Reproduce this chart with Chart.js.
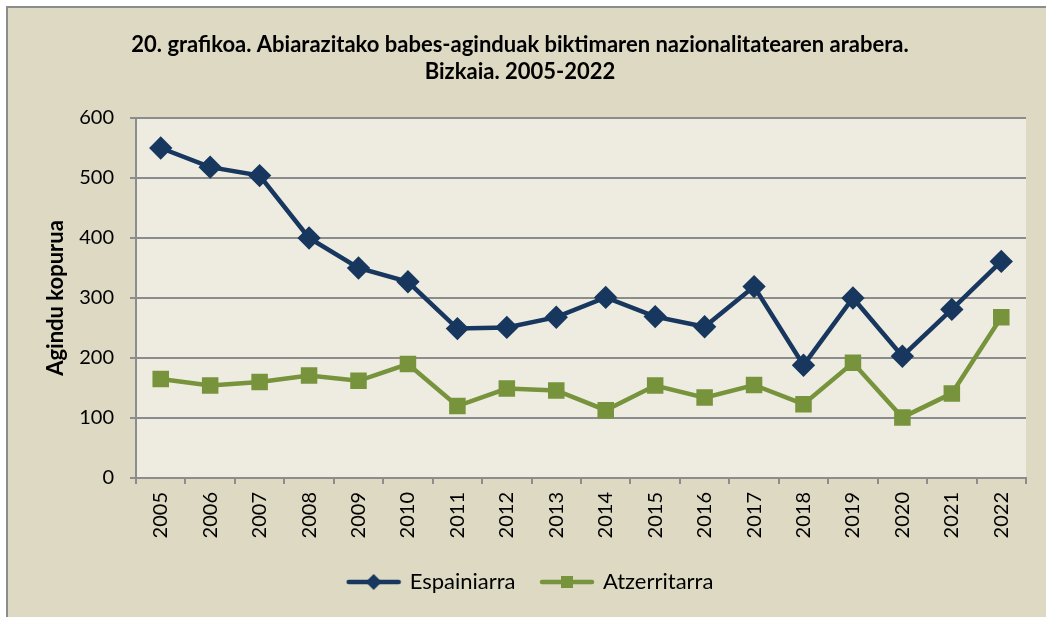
<!DOCTYPE html>
<html>
<head>
<meta charset="utf-8">
<script src="https://cdn.jsdelivr.net/npm/chart.js@4.4.0/dist/chart.umd.min.js"></script>
<style>
  html, body { margin: 0; padding: 0; background: #ffffff; }
  #box { position: relative; width: 1046px; height: 617px; }
</style>
</head>
<body>
<div id="box"><canvas id="natChart"></canvas></div>
<script>
// Babes-aginduak biktimaren nazionalitatearen arabera, Bizkaia 2005-2022
const years = ['2005', '2006', '2007', '2008', '2009', '2010', '2011', '2012', '2013',
               '2014', '2015', '2016', '2017', '2018', '2019', '2020', '2021', '2022'];
const espainiarra = [550, 518, 504, 400, 350, 327, 249, 251, 268, 301, 269, 252, 319, 188, 300, 203, 281, 361];
const atzerritarra = [165, 154, 160, 171, 162, 190, 120, 149, 146, 113, 154, 134, 155, 123, 192, 101, 141, 268];
const yTicks = [0, 100, 200, 300, 400, 500, 600];

const navy = '#17375e';
const olive = '#77933c';
const gridGrey = '#8c8c8c';

// small canvas: line with marker in the middle, for the legend
function legendMark(color, shape) {
    const c = document.createElement('canvas');
    c.width = 56; c.height = 18;
    const g = c.getContext('2d');
    g.strokeStyle = color;
    g.lineWidth = 4.5;
    g.lineCap = 'round';
    g.beginPath(); g.moveTo(3, 9); g.lineTo(53, 9); g.stroke();
    g.fillStyle = color;
    if (shape === 'diamond') {
        g.beginPath(); g.moveTo(28, 1); g.lineTo(36, 9); g.lineTo(28, 17); g.lineTo(20, 9); g.closePath(); g.fill();
    } else {
        g.fillRect(22, 3, 12, 12);
    }
    return c;
}

const backgroundPlugin = {
    id: 'backgrounds',
    beforeDraw(chart) {
        const ctx = chart.ctx;
        const a = chart.chartArea;
        ctx.save();
        ctx.fillStyle = '#ffffff';
        ctx.fillRect(0, 0, chart.width, chart.height);
        ctx.fillStyle = '#ddd9c3';
        ctx.fillRect(7, 7, chart.width - 7, chart.height - 7);
        ctx.strokeStyle = '#8c8c8c';
        ctx.lineWidth = 2;
        ctx.beginPath();
        ctx.moveTo(7, chart.height); ctx.lineTo(7, 7); ctx.lineTo(chart.width, 7);
        ctx.stroke();
        ctx.fillStyle = '#eeece1';
        ctx.fillRect(a.left, a.top, a.right - a.left, a.bottom - a.top);
        ctx.restore();
    },
    afterLayout(chart) {
        // legend sits a bit right of the centre in the original
        if (chart.legend) {
            chart.legend.left += 11;
            chart.legend.right += 11;
        }
    }
};

document.addEventListener('DOMContentLoaded', function() {
    const ctx = document.getElementById('natChart');
    new Chart(ctx, {
        type: 'line',
        data: {
            labels: years,
            datasets: [
                {
                    label: 'Espainiarra',
                    data: espainiarra,
                    borderColor: navy,
                    backgroundColor: navy,
                    borderWidth: 4.5,
                    pointStyle: 'rectRot',
                    pointRadius: 8.5,
                    pointHoverRadius: 8.5,
                    tension: 0
                },
                {
                    label: 'Atzerritarra',
                    data: atzerritarra,
                    borderColor: olive,
                    backgroundColor: olive,
                    borderWidth: 4.5,
                    pointStyle: 'rect',
                    pointRadius: 8.5,
                    pointHoverRadius: 8.5,
                    tension: 0
                }
            ]
        },
        plugins: [backgroundPlugin],
        options: {
            responsive: true,
            maintainAspectRatio: false,
            animation: false,
            layout: {
                padding: { left: 14, right: 20, top: 31, bottom: 14 }
            },
            scales: {
                x: {
                    offset: true,
                    grid: { offset: true, drawOnChartArea: false, color: gridGrey, lineWidth: 2, tickLength: 6 },
                    border: { color: gridGrey, width: 2 },
                    ticks: {
                        minRotation: 90, maxRotation: 90, autoSkip: false,
                        padding: 8,
                        color: '#000',
                        font: { family: 'Lato', size: 20 }
                    },
                    afterFit(scale) { scale.height = 83; }
                },
                y: {
                    min: 0, max: 600,
                    afterBuildTicks(scale) { scale.ticks = yTicks.map(v => ({ value: v })); },
                    grid: { color: gridGrey, lineWidth: 2, tickLength: 6 },
                    border: { color: gridGrey, width: 2 },
                    ticks: {
                        padding: 16,
                        color: '#000',
                        font: { family: 'Lato', size: 20 }
                    },
                    title: {
                        display: true,
                        text: 'Agindu kopurua',
                        color: '#000',
                        font: { family: 'Lato', size: 22, weight: 'bold' },
                        padding: { top: 29, bottom: 0 }
                    },
                    afterFit(scale) { scale.width = 122; }
                }
            },
            plugins: {
                title: {
                    display: true,
                    text: ['20. grafikoa. Abiarazitako babes-aginduak biktimaren nazionalitatearen arabera.', 'Bizkaia. 2005-2022'],
                    color: '#000',
                    font: { family: 'Lato', size: 22, weight: 'bold', lineHeight: 1.227 },
                    padding: { top: 0, bottom: 33 }
                },
                legend: {
                    position: 'bottom',
                    labels: {
                        usePointStyle: true,
                        pointStyleWidth: 50,
                        padding: 10,
                        color: '#000',
                        font: { family: 'Lato', size: 22 },
                        generateLabels(chart) {
                            return chart.data.datasets.map((ds, i) => ({
                                text: i === 0 ? ds.label + '\u2003' : ds.label,
                                datasetIndex: i,
                                fontColor: '#000',
                                lineWidth: 0,
                                strokeStyle: 'transparent',
                                fillStyle: ds.borderColor,
                                pointStyle: legendMark(ds.borderColor, i === 0 ? 'diamond' : 'square')
                            }));
                        }
                    }
                },
                tooltip: { enabled: false }
            }
        }
    });
});
</script>
</body>
</html>
